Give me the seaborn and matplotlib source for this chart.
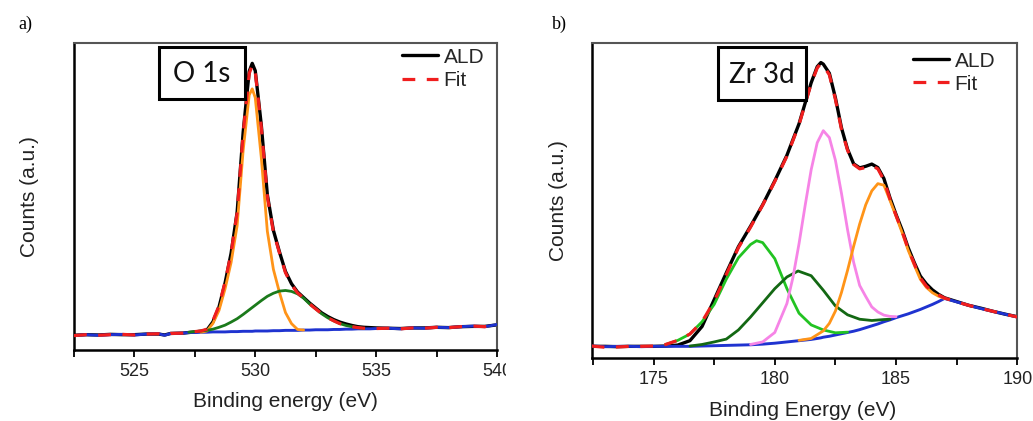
import matplotlib
matplotlib.use("Agg")
import matplotlib.pyplot as plt
from matplotlib.patches import Rectangle
from matplotlib.transforms import Bbox
import seaborn as sns

# ---------------- Panel a) O 1s ----------------
o_x = [522.5, 523.0, 523.5, 524.0, 524.5, 525.0, 525.5, 526.0, 526.25, 526.5, 527.0,
       527.25, 527.5, 527.75, 528.0, 528.25, 528.5, 528.75, 529.0, 529.25, 529.5, 529.75,
       529.875, 530.0, 530.25, 530.5, 530.75, 531.0, 531.25, 531.5, 531.75, 532.0, 532.25,
       532.5, 532.75, 533.0, 533.25, 533.5, 533.75, 534.0, 534.25, 534.5, 534.75, 535.0,
       535.5, 536.0, 536.5, 537.0, 537.5, 538.0, 538.5, 539.0, 539.5, 540.0]
o_ald = [4.8, 5.0, 4.9, 5.1, 5.0, 5.0, 5.2, 5.2, 4.9, 5.4, 5.5,
         5.7, 5.9, 6.1, 6.5, 9.2, 14.0, 21.8, 31.5, 44.9, 71.0, 90.8,
         93.4, 91.0, 73.3, 50.6, 39.0, 32.0, 25.6, 21.6, 18.9, 17.1, 15.3,
         13.7, 12.1, 10.9, 9.9, 9.1, 8.5, 8.0, 7.6, 7.4, 7.3, 7.2,
         7.1, 7.0, 7.2, 7.2, 7.4, 7.3, 7.6, 7.7, 7.7, 8.2]
o_fit = [4.7, 5.0, 4.8, 5.0, 5.1, 4.9, 5.2, 5.3, 4.8, 5.4, 5.5,
         5.8, 6.0, 6.2, 6.8, 9.6, 14.4, 22.1, 31.6, 44.7, 70.6, 90.1,
         92.8, 90.6, 72.6, 50.0, 38.5, 31.7, 25.2, 21.3, 18.6, 16.9, 15.0,
         13.4, 11.8, 10.5, 9.5, 8.6, 8.0, 7.6, 7.3, 7.1, 7.0, 7.0,
         7.1, 6.9, 7.2, 7.1, 7.4, 7.3, 7.6, 7.8, 7.6, 8.3]
o_bg = [4.7, 5.0, 4.8, 5.0, 5.1, 4.9, 5.2, 5.3, 4.8, 5.4, 5.5,
        5.7, 5.7, 5.8, 5.8, 5.9, 5.9, 5.9, 6.0, 6.0, 6.1, 6.1,
        6.1, 6.2, 6.2, 6.2, 6.3, 6.3, 6.4, 6.4, 6.4, 6.5, 6.5,
        6.6, 6.6, 6.6, 6.7, 6.7, 6.8, 6.8, 6.9, 6.9, 6.9, 7.0,
        7.1, 6.9, 7.2, 7.1, 7.4, 7.3, 7.6, 7.8, 7.6, 8.3]
o_peak1_x = [527.75, 528.0, 528.25, 528.5, 528.75, 529.0, 529.25, 529.5, 529.75, 529.875,
             530.0, 530.25, 530.5, 530.75, 531.0, 531.25, 531.5, 531.75, 532.0]
o_peak1_y = [5.8, 6.2, 8.7, 12.9, 19.9, 28.5, 40.5, 65.1, 83.1, 85.1,
             82.2, 62.7, 38.7, 26.3, 18.8, 12.2, 8.6, 6.7, 6.5]
o_peak2_x = [527.25, 527.5, 527.75, 528.0, 528.25, 528.5, 528.75, 529.0, 529.25, 529.5,
             529.75, 530.0, 530.25, 530.5, 530.75, 531.0, 531.25, 531.5, 531.75, 532.0,
             532.25, 532.5, 532.75, 533.0, 533.25, 533.5, 533.75, 534.0, 534.25, 534.5]
o_peak2_y = [5.8, 6.0, 6.2, 6.4, 6.8, 7.4, 8.1, 9.1, 10.2, 11.6,
             13.1, 14.6, 16.1, 17.5, 18.5, 19.2, 19.4, 19.1, 18.3, 16.9,
             15.0, 13.4, 11.8, 10.5, 9.5, 8.6, 8.0, 7.6, 7.3, 7.0]
o_ticks = [525, 530, 535, 540]

# ---------------- Panel b) Zr 3d ----------------
z_x = [172.45, 173.0, 173.5, 174.0, 174.5, 175.0, 175.5, 176.0, 176.5, 177.0, 177.5,
       178.0, 178.5, 179.0, 179.5, 180.0, 180.5, 181.0, 181.25, 181.5, 181.75, 181.9,
       182.0, 182.25, 182.5, 182.75, 183.0, 183.25, 183.5, 183.75, 184.0, 184.25, 184.5,
       184.75, 185.0, 185.25, 185.5, 185.75, 186.0, 186.25, 186.5, 186.75, 187.0, 187.5,
       188.0, 188.5, 189.0, 189.5, 190.0]
z_ald = [3.7, 3.7, 3.6, 3.7, 3.7, 3.7, 3.8, 4.1, 5.5, 10.0, 18.5,
         27.0, 35.3, 41.8, 48.6, 56.2, 64.3, 74.3, 80.8, 87.3, 92.4, 93.7,
         93.2, 90.3, 82.5, 73.0, 66.2, 61.6, 60.3, 60.8, 61.5, 60.4, 56.9,
         50.8, 45.5, 40.6, 35.0, 30.3, 26.0, 23.5, 21.6, 20.2, 19.1, 17.9,
         16.7, 15.8, 14.8, 13.9, 13.1]
z_fit = [3.8, 3.4, 3.5, 3.7, 3.7, 3.8, 4.3, 5.6, 7.6, 11.5, 18.0,
         26.5, 35.0, 41.5, 48.5, 56.0, 64.0, 74.0, 80.5, 87.0, 92.0, 93.4,
         92.8, 89.8, 82.0, 72.5, 65.9, 61.4, 60.0, 60.4, 61.0, 60.0, 56.4,
         50.4, 45.2, 40.2, 34.6, 29.9, 25.4, 22.8, 21.1, 20.0, 19.0, 17.8,
         16.7, 15.7, 14.8, 13.9, 13.0]
z_bg = [3.8, 3.6, 3.7, 3.7, 3.6, 3.7, 3.7, 3.7, 3.7, 3.8, 3.9,
        4.0, 4.1, 4.2, 4.4, 4.7, 5.1, 5.5, 5.7, 5.9, 6.2, 6.4,
        6.6, 6.9, 7.3, 7.7, 8.1, 8.5, 9.0, 9.6, 10.2, 10.8, 11.5,
        12.1, 12.8, 13.4, 14.0, 14.7, 15.4, 16.2, 17.0, 17.9, 18.9, 17.8,
        16.7, 15.7, 14.8, 13.9, 13.0]
z_lgreen_x = [175.5, 176.0, 176.5, 177.0, 177.5, 178.0, 178.5, 179.0, 179.25, 179.5,
              180.0, 180.5, 181.0, 181.5, 182.0, 182.5, 183.0]
z_lgreen_y = [4.3, 5.6, 7.6, 11.5, 17.0, 25.0, 31.8, 36.0, 37.2, 36.6,
              31.5, 22.0, 14.2, 10.5, 8.9, 8.0, 8.2]
z_dgreen_x = [176.5, 177.0, 177.5, 178.0, 178.5, 179.0, 179.5, 180.0, 180.5, 180.96,
              181.5, 182.0, 182.5, 183.0, 183.5, 184.0, 184.5, 184.75]
z_dgreen_y = [3.8, 4.3, 5.1, 6.0, 8.9, 13.0, 17.5, 22.0, 25.7, 27.6,
              26.1, 21.5, 16.5, 13.7, 12.3, 11.9, 12.2, 12.3]
z_pink_x = [179.0, 179.5, 180.0, 180.5, 180.75, 181.0, 181.25, 181.5, 181.75, 182.0,
            182.25, 182.5, 182.75, 183.0, 183.25, 183.5, 183.75, 184.0, 184.25, 184.5,
            184.75, 185.0]
z_pink_y = [4.3, 5.1, 8.1, 17.3, 25.6, 36.3, 48.3, 59.7, 68.3, 72.1,
            69.9, 62.7, 52.2, 40.7, 30.4, 23.0, 19.5, 16.2, 14.6, 13.6,
            13.2, 13.1]
z_orange_x = [181.0, 181.5, 182.0, 182.25, 182.5, 182.75, 183.0, 183.25, 183.5, 183.75,
              184.0, 184.25, 184.5, 184.75, 185.0, 185.25, 185.5, 185.75, 186.0, 186.25,
              186.5, 186.75, 187.0]
z_orange_y = [5.6, 6.2, 8.6, 11.0, 14.9, 20.8, 27.8, 35.4, 42.5, 48.6,
              53.0, 55.3, 54.8, 50.0, 45.0, 39.8, 34.2, 29.5, 25.0, 22.4,
              20.7, 19.6, 18.9]
z_ticks = [175, 180, 185, 190]

legend_labels = ["ALD", "Fit"]

# ---------------- styling ----------------
sns.set_theme(style="white")
plt.rcParams["font.family"] = ["Liberation Sans", "DejaVu Sans"]

C_ALD = "black"
C_FIT = "#f01e1e"
C_BG = "#1f33d0"
C_ORANGE = "#ff9418"
C_GREEN = "#1b7a1b"
C_DGREEN = "#136813"
C_LGREEN = "#22c322"
C_PINK = "#f684e6"

fig = plt.figure(figsize=(10.33, 4.21), dpi=100)
axL = fig.add_axes([0.0716, 0.1686, 0.4095, 0.729])
axR = fig.add_axes([0.5728, 0.1496, 0.412, 0.749])


def draw_panel(ax, x, ald, fit, bg, comps, xlim, ticks, xlabel, box, title,
               leg_anchor, xlab_pos, ylab_pos):
    sns.lineplot(x=x, y=ald, ax=ax, color=C_ALD, linewidth=2.4, zorder=2)
    ald_line = ax.lines[-1]
    sns.lineplot(x=x, y=bg, ax=ax, color=C_BG, linewidth=2.1, zorder=3)
    for cx, cy, col in comps:
        sns.lineplot(x=cx, y=cy, ax=ax, color=col, linewidth=2.0, zorder=4)
    sns.lineplot(x=x, y=fit, ax=ax, color=C_FIT, linewidth=2.3, zorder=5,
                 linestyle=(0, (4.0, 3.6)))
    fit_line = ax.lines[-1]

    ax.set_xlim(*xlim)
    ax.set_ylim(0, 100)
    ax.set_xticks(ticks)
    ax.set_xticks([t - 2.5 for t in ticks], minor=True)
    ax.tick_params(axis="x", which="both", direction="out", length=5, width=1.3,
                   bottom=True, top=False, colors="black", labelsize=13, pad=4)
    ax.tick_params(axis="x", which="major", labelcolor="#222222")
    ax.tick_params(axis="y", left=False, labelleft=False)
    for s in ["left", "bottom"]:
        ax.spines[s].set_color("black")
        ax.spines[s].set_linewidth(1.8)
    for s in ["top", "right"]:
        ax.spines[s].set_color("#555555")
        ax.spines[s].set_linewidth(1.5)

    ax.set_xlabel(xlabel, fontsize=15, color="#222222")
    ax.xaxis.label.set_verticalalignment("center")
    ax.xaxis.set_label_coords(*xlab_pos)
    ax.set_ylabel("Counts (a.u.)", fontsize=15, color="#222222")
    ax.yaxis.label.set_verticalalignment("center")
    ax.yaxis.set_label_coords(*ylab_pos)

    x0, y0, x1, y1 = box
    ax.add_patch(Rectangle((x0, y0), x1 - x0, y1 - y0, transform=ax.transAxes,
                           facecolor="white", edgecolor="black", linewidth=2.2,
                           zorder=6, clip_on=False))
    ax.text((x0 + x1) / 2, (y0 + y1) / 2 - 0.005, title, transform=ax.transAxes,
            ha="center", va="center", fontsize=20, family=["Lato", "DejaVu Sans"],
            color="#111111", zorder=7)

    ax.legend(handles=[ald_line, fit_line], labels=legend_labels, loc="upper left",
              bbox_to_anchor=leg_anchor, frameon=False, borderpad=0,
              handlelength=1.75, handletextpad=0.25, labelspacing=0.2,
              fontsize=15, borderaxespad=0)


draw_panel(axL, o_x, o_ald, o_fit, o_bg,
           [(o_peak1_x, o_peak1_y, C_ORANGE), (o_peak2_x, o_peak2_y, C_GREEN)],
           (522.5, 540), o_ticks, "Binding energy (eV)",
           (0.2017, 0.818, 0.404, 0.988), "O 1s",
           (0.775, 0.985), (0.5, -0.168), (-0.104, 0.5))

draw_panel(axR, z_x, z_ald, z_fit, z_bg,
           [(z_lgreen_x, z_lgreen_y, C_LGREEN), (z_dgreen_x, z_dgreen_y, C_DGREEN),
            (z_pink_x, z_pink_y, C_PINK), (z_orange_x, z_orange_y, C_ORANGE)],
           (172.45, 190), z_ticks, "Binding Energy (eV)",
           (0.2975, 0.818, 0.5035, 0.987), "Zr 3d",
           (0.755, 0.972), (0.496, -0.165), (-0.0785, 0.5))

fig.text(18 / 1033, 1 - 24 / 421, "a)", fontsize=13, family=["Liberation Serif"],
         ha="left", va="center", color="black")
fig.text(552 / 1033, 1 - 24 / 421, "b)", fontsize=13, family=["Liberation Serif"],
         ha="left", va="center", color="black")

# the source image cuts the right end of the last tick label of panel a)
for lbl in axL.get_xticklabels():
    if lbl.get_text() == "540":
        lbl.set_clip_box(Bbox([[0, 0], [506, 421]]))
        lbl.set_clip_on(True)

fig.savefig("out.png", dpi=100, facecolor="white")
